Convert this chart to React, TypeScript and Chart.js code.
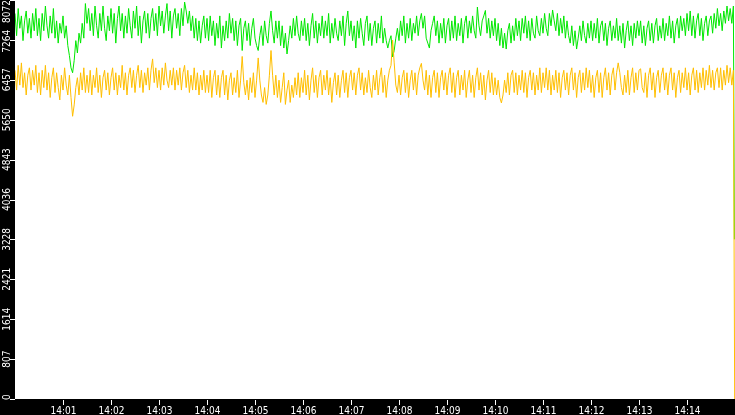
import React, { useEffect, useRef } from 'react';
import { Chart, registerables } from 'chart.js';

Chart.register(...registerables);

// seconds after 14:00:00 between two readings
const SAMPLE_SECONDS = 2;

const GREEN_VALUES = [
  7800, 7350, 7900, 7500, 7750, 7250, 7650, 7850, 7400, 7700, 7300, 7800, 7450, 7900, 7350,
  7700, 7250, 7800, 7450, 7950, 7550, 7300, 7750, 7400, 7900, 7300, 7650, 7200, 7600, 7400,
  7750, 7300, 7550, 7150, 6950, 6700, 6600, 6850, 7250, 7000, 7400, 7200, 7600, 7300, 8000,
  7600, 7900, 7450, 7800, 7350, 7950, 7550, 7300, 7800, 7450, 7950, 7500, 7250, 7750, 7450,
  7900, 7400, 7800, 7200, 7700, 7950, 7450, 7800, 7300, 7750, 7400, 7900, 7550, 7300, 7850,
  7500, 7950, 7350, 7750, 7200, 7650, 7850, 7400, 7800, 7300, 7700, 7900, 7450, 7800, 7350,
  7950, 7550, 7850, 7400, 7750, 8000, 7450, 7850, 7300, 7750, 7900, 7500, 7800, 7350, 7900,
  7550, 8030, 7850, 7600, 7850, 7450, 7750, 7300, 7700, 7250, 7650, 7200, 7550, 7750, 7300,
  7700, 7250, 7750, 7350, 7650, 7150, 7600, 7300, 7750, 7100, 7550, 7250, 7650, 7300, 7800,
  7400, 7700, 7250, 7650, 7150, 7550, 7700, 7050, 7500, 7650, 7250, 7600, 7150, 7500, 7700,
  7300, 7150, 7050, 7350, 7550, 7150, 7650, 7350, 7200, 7600, 7850, 7450, 7200, 7650, 7300,
  7650, 7150, 7550, 7100, 7400, 6980, 7250, 7550, 7300, 7700, 7350, 7750, 7400, 7250, 7650,
  7350, 7700, 7250, 7600, 7150, 7550, 7800, 7300, 7650, 7200, 7600, 7350, 7750, 7300, 7650,
  7350, 7800, 7200, 7600, 7300, 7700, 7400, 7250, 7650, 7350, 7750, 7150, 7600, 7850, 7350,
  7650, 7250, 7550, 7100, 7650, 7300, 7700, 7400, 7150, 7600, 7750, 7250, 7600, 7150, 7500,
  7650, 7200, 7600, 7300, 7750, 7200, 7500, 7250, 7100, 7250, 7350, 6920, 7050, 7300, 7500,
  7250, 7650, 7350, 7750, 7200, 7600, 7300, 7700, 7250, 7600, 7400, 7750, 7350, 7650, 7800,
  7500, 7750, 7300, 7200, 7100, 7450, 7600, 7750, 7350, 7650, 7200, 7600, 7300, 7700, 7200,
  7550, 7700, 7250, 7650, 7300, 7750, 7250, 7600, 7350, 7700, 7200, 7600, 7750, 7300, 7650,
  7400, 7750, 7450, 7300, 7930, 7550, 7350, 7650, 7750, 7860, 7400, 7700, 7300, 7650, 7350,
  7700, 7250, 7600, 7150, 7500, 7100, 7400, 7080, 7450, 7600, 7200, 7550, 7250, 7700, 7350,
  7650, 7250, 7700, 7400, 7750, 7300, 7650, 7250, 7700, 7400, 7300, 7750, 7450, 7350, 7700,
  7400, 7800, 7500, 7350, 7800, 7550, 7870, 7650, 7450, 7800, 7350, 7700, 7400, 7750, 7300,
  7650, 7350, 7200, 7550, 7150, 7450, 7080, 7300, 7550, 7250, 7650, 7350, 7200, 7600, 7300,
  7650, 7250, 7600, 7300, 7700, 7200, 7550, 7650, 7250, 7600, 7150, 7500, 7650, 7250, 7550,
  7300, 7700, 7250, 7550, 7200, 7600, 7100, 7450, 7650, 7250, 7550, 7150, 7600, 7300, 7650,
  7350, 7650, 7200, 7550, 7150, 7500, 7650, 7250, 7600, 7200, 7550, 7700, 7250, 7550, 7300,
  7700, 7250, 7600, 7350, 7750, 7300, 7650, 7200, 7550, 7700, 7300, 7750, 7450, 7700, 7350,
  7800, 7450, 7850, 7350, 7750, 7300, 7650, 7800, 7350, 7700, 7250, 7600, 7750, 7350, 7650,
  7750, 7400, 7800, 7500, 7900, 7550, 7800, 7450, 7850, 7600, 7950, 7650, 7900, 7600, 7950,
];

const YELLOW_VALUES = [
  6650, 6250, 6750, 6350, 6800, 6300, 6600, 6150, 6550, 6700, 6250, 6650, 6350, 6750, 6200,
  6600, 6150, 6650, 6300, 6750, 6250, 6600, 6100, 6500, 6700, 6200, 6600, 6300, 6050, 6550,
  6250, 6700, 6350, 6150, 6550, 6100, 5720, 5950, 6300, 6500, 6150, 6600, 6250, 6700, 6200,
  6550, 6200, 6650, 6150, 6550, 6300, 6700, 6200, 6550, 6100, 6500, 6650, 6250, 6600, 6150,
  6500, 6700, 6250, 6600, 6150, 6550, 6300, 6750, 6250, 6600, 6150, 6550, 6700, 6300, 6650,
  6200, 6550, 6750, 6300, 6650, 6200, 6600, 6350, 6700, 6250, 6650, 6880, 6400, 6700, 6300,
  6650, 6250, 6700, 6350, 6800, 6450, 6300, 6650, 6350, 6700, 6250, 6650, 6350, 6700, 6250,
  6600, 6750, 6300, 6650, 6200, 6550, 6250, 6700, 6250, 6600, 6150, 6550, 6250, 6650, 6200,
  6550, 6200, 6650, 6100, 6500, 6650, 6150, 6550, 6100, 6500, 6650, 6150, 6550, 6050, 6450,
  6600, 6150, 6500, 6200, 6650, 6100, 6450, 6930, 6400, 6150, 6450, 6050, 6500, 6200, 6600,
  6100, 6450, 6900, 6450, 6150, 6000, 6300, 5960, 6150, 6550, 7050, 6550, 6150, 6550, 6100,
  6450, 6000, 6300, 6600, 5960, 6250, 6450, 6000, 6350, 6100, 6500, 6150, 6600, 6100, 6500,
  6200, 6650, 6150, 6550, 6050, 6450, 6700, 6200, 6550, 6100, 6500, 6650, 6150, 6550, 6250,
  6650, 6150, 6500, 6000, 6400, 6600, 6150, 6550, 6100, 6450, 6650, 6200, 6600, 6100, 6500,
  6650, 6250, 6600, 6150, 6550, 6700, 6250, 6600, 6150, 6500, 6200, 6650, 6300, 6100, 6550,
  6250, 6650, 6150, 6500, 6700, 6200, 6550, 6100, 6450, 6650, 6750, 7260, 6800, 6350, 6200,
  6550, 6150, 6500, 6650, 6200, 6600, 6100, 6450, 6650, 6250, 6600, 6150, 6550, 6700, 6790,
  6450, 6250, 6650, 6150, 6550, 6100, 6500, 6650, 6200, 6600, 6100, 6500, 6650, 6250, 6600,
  6150, 6550, 6700, 6200, 6600, 6100, 6500, 6650, 6150, 6550, 6250, 6650, 6100, 6450, 6650,
  6200, 6550, 6100, 6500, 6700, 6250, 6600, 6150, 6550, 6050, 6450, 6650, 6200, 6600, 6150,
  6500, 6150, 6450, 6100, 5990, 6150, 6450, 6200, 6600, 6150, 6550, 6650, 6200, 6600, 6150,
  6550, 6250, 6650, 6200, 6600, 6100, 6500, 6650, 6250, 6600, 6150, 6550, 6250, 6700, 6200,
  6600, 6300, 6700, 6250, 6650, 6150, 6550, 6250, 6650, 6200, 6600, 6100, 6500, 6650, 6250,
  6600, 6150, 6550, 6700, 6250, 6600, 6100, 6500, 6650, 6200, 6600, 6250, 6700, 6300, 6650,
  6200, 6550, 6100, 6500, 6650, 6200, 6600, 6100, 6500, 6700, 6250, 6600, 6150, 6550, 6700,
  6250, 6600, 6800, 6600, 6300, 6150, 6550, 6200, 6650, 6150, 6500, 6700, 6200, 6600, 6250,
  6650, 6680, 6300, 6200, 6600, 6100, 6550, 6700, 6250, 6600, 6100, 6500, 6650, 6200, 6550,
  6700, 6250, 6600, 6150, 6550, 6700, 6250, 6600, 6100, 6500, 6650, 6200, 6600, 6300, 6700,
  6250, 6600, 6150, 6550, 6700, 6250, 6650, 6200, 6600, 6300, 6700, 6250, 6650, 6350, 6750,
  6300, 6650, 6250, 6600, 6700, 6300, 6700, 6250, 6650, 6350, 6750, 6400, 6700, 6350, 6650,
];

// last reading of each line, where both fall off at the right edge
const GREEN_END = { x: 899.2, y: 3230 };
const YELLOW_END = { x: 899.6, y: 0 };

const X_TICK_SECONDS = [60, 120, 180, 240, 300, 360, 420, 480, 540, 600, 660, 720, 780, 840];
const X_TICK_LABELS = ['14:01', '14:02', '14:03', '14:04', '14:05', '14:06', '14:07', '14:08', '14:09', '14:10', '14:11', '14:12', '14:13', '14:14'];

const Y_TICK_VALUES = [0, 807.2, 1614.4, 2421.6, 3228.8, 4036, 4843.2, 5650.4, 6457.6, 7264.8, 8072];
const Y_TICK_LABELS = ['0', '807', '1614', '2421', '3228', '4036', '4843', '5650', '6457', '7264', '8072'];

const FONT = '10px "DejaVu Sans Condensed", "DejaVu Sans", sans-serif';

const toPoints = (values: number[], end: { x: number; y: number }) => [
  ...values.map((v, i) => ({ x: i * SAMPLE_SECONDS, y: v })),
  end,
];

// black axis strips with white ticks and labels
const stripPlugin = {
  id: 'strips',
  beforeDraw(chart: any) {
    const { ctx, chartArea: a, width, height } = chart;
    ctx.save();
    ctx.fillStyle = '#000';
    ctx.fillRect(0, 0, width, height);
    ctx.fillStyle = '#fff';
    ctx.fillRect(a.left, a.top, a.right - a.left, a.bottom - a.top);
    ctx.restore();
  },
  afterDraw(chart: any) {
    const { ctx, chartArea: a, scales } = chart;
    ctx.save();
    ctx.strokeStyle = '#fff';
    ctx.fillStyle = '#fff';
    ctx.lineWidth = 1;
    ctx.font = FONT;

    ctx.textAlign = 'center';
    ctx.textBaseline = 'alphabetic';
    X_TICK_SECONDS.forEach((s, i) => {
      const px = Math.round(scales.x.getPixelForValue(s)) + 0.5;
      ctx.beginPath();
      ctx.moveTo(px, a.bottom + 1);
      ctx.lineTo(px, a.bottom + 6);
      ctx.stroke();
      ctx.fillText(X_TICK_LABELS[i], px, a.bottom + 15);
    });

    const gap = 7;
    let prevBottom = -gap;
    for (let i = Y_TICK_VALUES.length - 1; i >= 0; i--) {
      const py = scales.y.getPixelForValue(Y_TICK_VALUES[i]);
      const ty = Math.min(Math.max(Math.round(py), 0), a.bottom) + 0.5;
      ctx.beginPath();
      ctx.moveTo(a.left - 5, ty);
      ctx.lineTo(a.left, ty);
      ctx.stroke();

      const label = Y_TICK_LABELS[i];
      const w = ctx.measureText(label).width;
      let top = Math.max(py - w / 2, prevBottom + gap, 0);
      if (top + w > a.bottom + 1) top = a.bottom + 1 - w;
      prevBottom = top + w;
      ctx.save();
      ctx.translate(9.5, top + w);
      ctx.rotate(-Math.PI / 2);
      ctx.textAlign = 'left';
      ctx.fillText(label, 0, 0);
      ctx.restore();
    }
    ctx.restore();
  },
};

const App: React.FC = () => {
  const chartRef = useRef<HTMLCanvasElement>(null);
  const chartInstance = useRef<Chart | null>(null);

  useEffect(() => {
    if (!chartRef.current) return;
    document.body.style.margin = '0';

    if (chartInstance.current) {
      chartInstance.current.destroy();
    }

    chartInstance.current = new Chart(chartRef.current, {
      type: 'line',
      data: {
        datasets: [
          {
            label: 'yellow',
            data: toPoints(YELLOW_VALUES, YELLOW_END),
            borderColor: '#ffbf00',
            borderWidth: 1,
            pointRadius: 0,
            tension: 0,
          },
          {
            label: 'green',
            data: toPoints(GREEN_VALUES, GREEN_END),
            borderColor: '#00e800',
            borderWidth: 1,
            pointRadius: 0,
            tension: 0,
          },
        ],
      },
      options: {
        animation: false,
        responsive: true,
        maintainAspectRatio: false,
        events: [],
        layout: { padding: { left: 15, right: 0, top: 0, bottom: 16 } },
        scales: {
          x: { type: 'linear', min: 0, max: 900, display: false },
          y: { type: 'linear', min: 0, max: 8072, display: false },
        },
        plugins: {
          legend: { display: false },
          tooltip: { enabled: false },
        },
      },
      plugins: [stripPlugin],
    });

    return () => {
      if (chartInstance.current) {
        chartInstance.current.destroy();
        chartInstance.current = null;
      }
    };
  }, []);

  return (
    <div style={{ position: 'fixed', left: 0, top: 0, width: 735, height: 415 }}>
      <canvas ref={chartRef}></canvas>
    </div>
  );
};

export default App;
